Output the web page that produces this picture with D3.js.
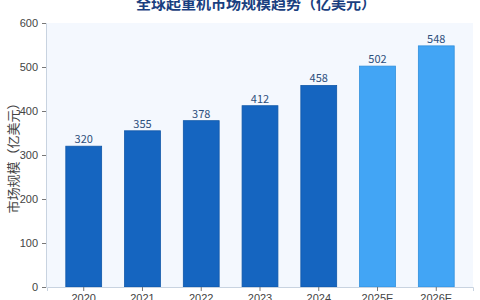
<!DOCTYPE html>
<html>
<head>
<meta charset="utf-8">
<script src="https://cdn.jsdelivr.net/npm/d3@7"></script>
<style>
  body { margin: 0; background: #fff; }
  svg { font-family: "Noto Sans CJK SC", "Noto Sans", sans-serif; }
</style>
</head>
<body>
<div id="chart"></div>
<script>
// data
const years = ["2020", "2021", "2022", "2023", "2024", "2025E", "2026E"];
const marketSize = [320, 355, 378, 412, 458, 502, 548];
const yTicks = [0, 100, 200, 300, 400, 500, 600];

const W = 480, H = 300;
const margin = {top: 23, right: 7, bottom: 13, left: 47};

const svg = d3.select("#chart")
  .append("svg")
  .attr("width", W)
  .attr("height", H);

const x = d3.scaleBand()
  .domain(years)
  .range([margin.left, W - margin.right])
  .paddingInner(0.39)
  .paddingOuter(0.32);

const y = d3.scaleLinear()
  .domain([0, 600])
  .range([H - margin.bottom, margin.top]);

// plot background
svg.append("rect")
  .attr("x", margin.left)
  .attr("y", margin.top)
  .attr("width", W - margin.left - margin.right)
  .attr("height", H - margin.top - margin.bottom)
  .attr("fill", "#f4f8fe");

// bars
svg.selectAll(".bar")
  .data(years)
  .join("rect")
  .attr("class", "bar")
  .attr("x", d => x(d))
  .attr("width", x.bandwidth())
  .attr("y", (d, i) => y(marketSize[i]))
  .attr("height", (d, i) => y(0) - y(marketSize[i]))
  .attr("fill", d => d.endsWith("E") ? "#42a5f5" : "#1565c0")
  .attr("stroke", d => d.endsWith("E") ? "#2f8fdc" : "#0f57a8")
  .attr("stroke-width", 0.8);

// value labels
svg.selectAll(".lbl")
  .data(years)
  .join("text")
  .attr("class", "lbl")
  .attr("x", d => x(d) + x.bandwidth() / 2)
  .attr("y", (d, i) => y(marketSize[i]) - 3)
  .attr("text-anchor", "middle")
  .style("font-size", "11px")
  .style("fill", "#2d4f7c")
  .text((d, i) => marketSize[i]);

// y axis
const yAxis = svg.append("g")
  .attr("transform", `translate(${margin.left - 1},0)`)
  .call(d3.axisLeft(y).tickValues(yTicks).tickSize(4).tickPadding(4));
yAxis.select(".domain").attr("stroke", "#c8d3e0");
yAxis.selectAll(".tick line").attr("stroke", "#777");
yAxis.selectAll("text").style("font-size", "11px").style("fill", "#444");

// x axis
const xAxis = svg.append("g")
  .attr("transform", `translate(0,${H - margin.bottom})`)
  .call(d3.axisBottom(x).tickSize(4).tickPadding(3));
xAxis.select(".domain").attr("stroke", "#c8d3e0");
xAxis.selectAll(".tick line").attr("stroke", "#777");
xAxis.selectAll("text").style("font-size", "11px").style("fill", "#444");

// y label
svg.append("text")
  .attr("transform", `translate(14,${(margin.top + H - margin.bottom) / 2}) rotate(-90)`)
  .attr("text-anchor", "middle")
  .attr("dominant-baseline", "middle")
  .style("font-size", "13px")
  .style("fill", "#444")
  .text("市场规模（亿美元）");

// title
svg.append("text")
  .attr("x", 256)
  .attr("y", 9)
  .attr("text-anchor", "middle")
  .style("font-size", "15px")
  .style("font-weight", "bold")
  .style("fill", "#1a3f80")
  .text("全球起重机市场规模趋势（亿美元）");
</script>
</body>
</html>
